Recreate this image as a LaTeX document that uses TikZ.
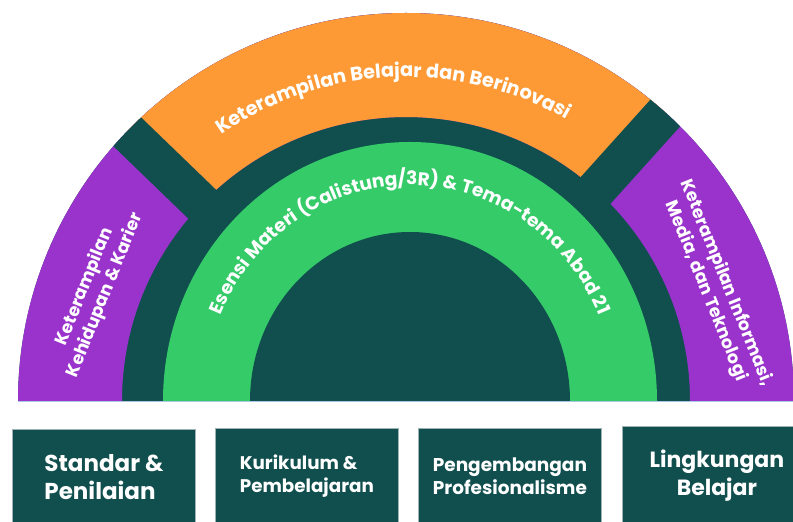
\documentclass[tikz,border=0pt]{standalone}
\usepackage{fontspec}
\setmainfont{Poppins}
\usetikzlibrary{decorations.text}

\definecolor{deepteal}{HTML}{114F4E}
\definecolor{ringorange}{HTML}{FD9A36}
\definecolor{ringpurple}{HTML}{9933CC}
\definecolor{ringgreen}{HTML}{35CB69}
\definecolor{edgegray}{HTML}{9DB3B3}
\definecolor{baseblue}{HTML}{A9C7E3}

\newcommand\curvefont{\bfseries\fontsize{19.3}{19.3}\selectfont}
\newcommand\innerfont{\bfseries\fontsize{18.5}{18.5}\selectfont}

\begin{document}
\begin{tikzpicture}[x=1pt,y=1pt,
  pillar/.style={draw=edgegray, line width=0.8pt, fill=deepteal, text=white,
    anchor=north west, inner sep=0pt},
  sidelabel/.style={text=white, font=\bfseries\fontsize{17.5}{22}\selectfont, align=center},
  gapbar/.style={deepteal, line width=40pt},
]
\useasboundingbox (0,0) rectangle (793,522);
\clip (0,0) rectangle (793,522);

\coordinate (C) at (406,121);   % centre of the outer rings
\coordinate (G) at (410,121);   % centre of the green band

% dark half disc
\fill[deepteal] (C) ++(-388,0) arc[start angle=180, end angle=0, radius=388] -- cycle;

% outer band: purple, with the orange sector on top
\fill[ringpurple] (C) ++(-388,0) arc[start angle=180, end angle=0, radius=388]
  -- ++(-104,0) arc[start angle=0, end angle=180, radius=284] -- cycle;
\fill[ringorange] (C) ++(48:388) arc[start angle=48, end angle=136, radius=388]
  -- ++(136:-104) arc[start angle=136, end angle=48, radius=284] -- cycle;

% dark separators between the sectors
\begin{scope}
  \clip (C) ++(-388,0) arc[start angle=180, end angle=0, radius=388] -- cycle;
  \draw[gapbar] (C) -- ++(136:420);
  \draw[gapbar] (C) -- ++(48:420);
\end{scope}

% green band
\fill[ringgreen] (G) ++(-247,0) arc[start angle=180, end angle=0, x radius=247, y radius=259] -- cycle;
\fill[deepteal] (G) ++(-160,0) arc[start angle=180, end angle=0, x radius=160, y radius=169] -- cycle;

% base line
\coordinate (bl) at (18,120.5);
\coordinate (br) at (793,120.5);
\draw[baseblue, line width=1pt] (bl) -- (br);

% curved labels
\path (C) ++(150:324) coordinate (oa);
\path[decorate, decoration={text along path, text align=center, text color=white,
  text={|\curvefont|Keterampilan Belajar dan Berinovasi}}]
  (oa) arc[start angle=150, end angle=35, radius=324];

\path (G) ++(170:206 and 216) coordinate (ga);
\path[decorate, decoration={text along path, text align=center, text color=white,
  text={|\innerfont|Esensi Materi (Calistung/3R) {\&} Tema-tema Abad 21}}]
  (ga) arc[start angle=170, end angle=10, x radius=206, y radius=216];

% side labels
\node[sidelabel, rotate=68] (lifeskills) at (95,231) {Keterampilan\\Kehidupan \& Karier};
\node[sidelabel, rotate=-68] (infoskills) at (716,235) {Keterampilan Informasi,\\Media, dan Teknologi};

% support pillars
\node[pillar, minimum width=183pt, minimum height=95pt, align=left,
  font=\bfseries\fontsize{23}{28}\selectfont] (standar) at (12,93) {Standar \&\\Penilaian};
\node[pillar, minimum width=183pt, minimum height=96pt, align=left,
  font=\bfseries\fontsize{18.3}{23}\selectfont] (kurikulum) at (215,94) {Kurikulum \&\\Pembelajaran};
\node[pillar, minimum width=183pt, minimum height=96pt, align=center,
  font=\bfseries\fontsize{18.5}{23}\selectfont] (profesi) at (418,94) {Pengembangan\\Profesionalisme};
\node[pillar, minimum width=189pt, minimum height=98pt, align=center,
  font=\bfseries\fontsize{22}{28}\selectfont] (lingkungan) at (622,96) {Lingkungan\\Belajar};
\end{tikzpicture}
\end{document}
